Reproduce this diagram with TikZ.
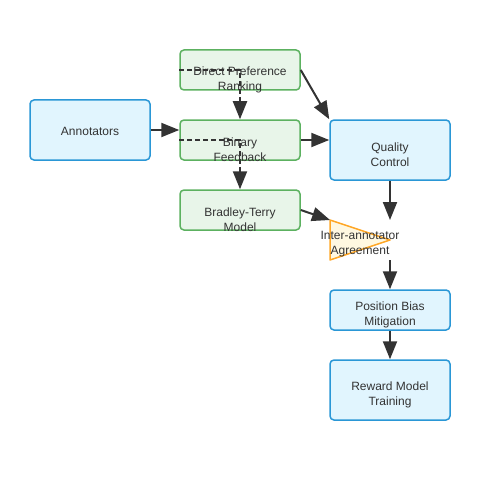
\documentclass[tikz,border=0pt]{standalone}
\usepackage{fontspec}
\setmainfont{Liberation Sans}
\usetikzlibrary{arrows.meta,positioning,shapes.geometric}
\definecolor{ink}{HTML}{333333}
\definecolor{bluefill}{HTML}{E1F5FE}
\definecolor{bluedraw}{HTML}{2A97D6}
\definecolor{greenfill}{HTML}{E8F5E9}
\definecolor{greendraw}{HTML}{5CB160}
\definecolor{orangefill}{HTML}{FFF8E1}
\definecolor{orangedraw}{HTML}{FFA726}

\begin{document}
\begin{tikzpicture}[
  x=1pt, y=-1pt,
  bluebox/.style={rectangle, draw=bluedraw, fill=bluefill, line width=1.5pt,
    rounded corners=4pt, minimum width=120pt, inner sep=0pt},
  greenbox/.style={rectangle, draw=greendraw, fill=greenfill, line width=1.5pt,
    rounded corners=4pt, minimum width=120pt, minimum height=40pt, inner sep=0pt},
  lbl/.style={text=ink, align=center, font=\fontsize{12}{15}\selectfont, inner sep=0pt},
  arr/.style={draw=ink, line width=2pt, -{Triangle[length=18pt,width=14pt]}},
  dashedarr/.style={arr, dash pattern=on 5pt off 3pt}
]
\useasboundingbox (0,0) rectangle (500,500);

% Left
\node[bluebox, minimum height=60pt] (annot) at (90,130) {};
\node[lbl] at (90,131) {Annotators};

% Green column
\node[greenbox] (dpr) at (240,70) {};
\node[greenbox] (bin) at (240,140) {};
\node[greenbox] (bt) at (240,210) {};

\draw[arr] (annot.east) -- (annot.east -| bin.west);
\draw[dashedarr] (dpr.west) -- (dpr.center) -- (bin.north);
\draw[dashedarr] (bin.west) -- (bin.center) -- (bt.north);

\node[lbl] at (240,79.5) {Direct Preference\\Ranking};
\node[lbl] at (240,149.5) {Binary\\Feedback};
\node[lbl] at (240,219.5) {Bradley-Terry\\Model};

% Right column
\node[bluebox, minimum height=60pt] (qc) at (390,150) {};
\node[lbl] at (390,154.5) {Quality\\Control};
\coordinate (agtop) at (390,220);
\coordinate (agbot) at (390,260);
\coordinate (agleft) at (330,220);
\draw[draw=orangedraw, fill=orangefill, line width=1.5pt, line join=round]
  (330,220) -- (390,240) -- (330,260) -- cycle;
\node[lbl] (agree) at (360,244.5) {Inter-annotator\\Agreement};
\node[bluebox, minimum height=40pt] (pbm) at (390,310) {};
\node[lbl] at (390,314.5) {Position Bias\\Mitigation};
\node[bluebox, minimum height=60pt] (rmt) at (390,390) {};
\node[lbl] at (390,394.5) {Reward Model\\Training};

\draw[arr] (dpr.east) -- (qc.north west);
\draw[arr] (bin.east) -- (bin.east -| qc.west);
\draw[arr] (bt.east) -- (agleft);
\draw[arr] (qc) -- (agtop);
\draw[arr] (agbot) -- (pbm);
\draw[arr] (pbm) -- (rmt);

\end{tikzpicture}
\end{document}
